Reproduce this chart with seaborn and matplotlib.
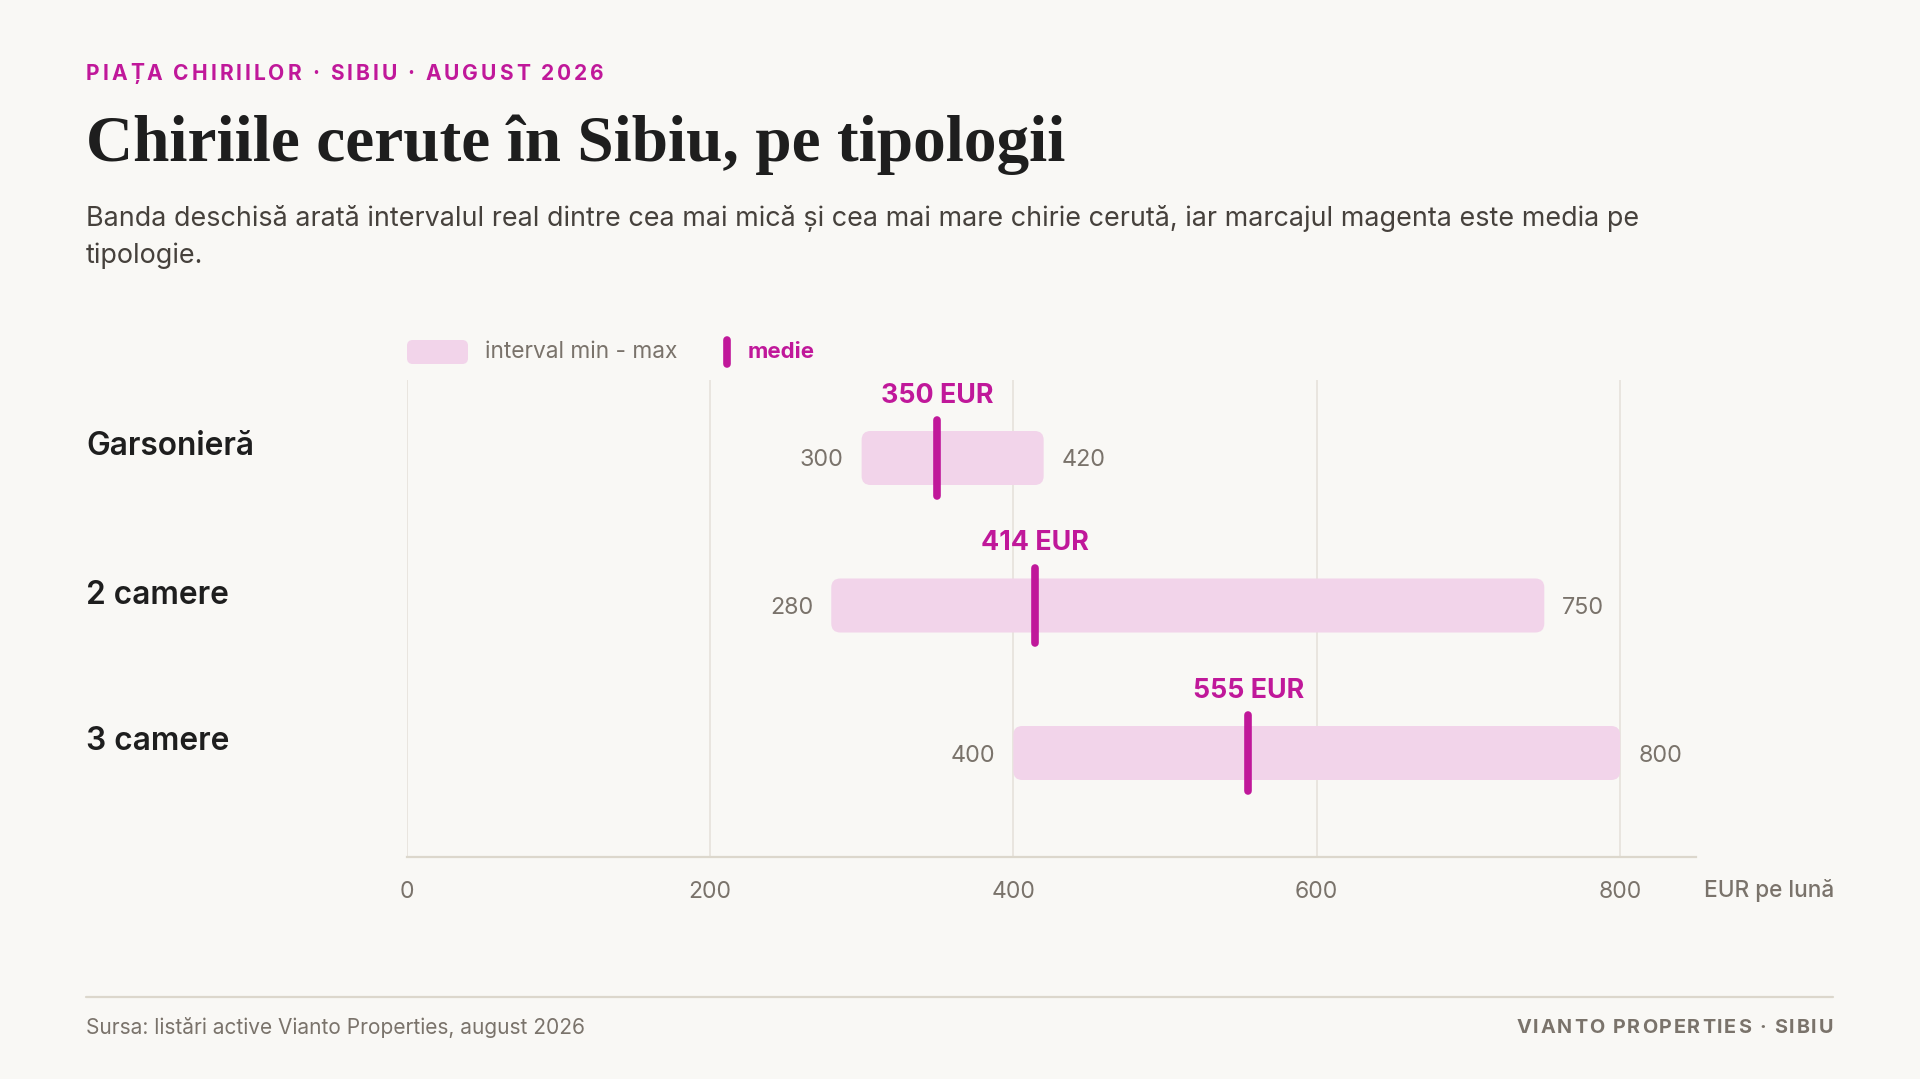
import matplotlib
matplotlib.use("Agg")
import matplotlib.pyplot as plt
from matplotlib.patches import FancyBboxPatch
from matplotlib.lines import Line2D
import seaborn as sns
import pandas as pd

# ---------------- data ----------------
categories = ["Garsonieră", "2 camere", "3 camere"]
min_values = [300, 280, 400]
max_values = [420, 750, 800]
mean_values = [350, 414, 555]
x_ticks = [0, 200, 400, 600, 800]

kicker = "PIAȚA CHIRIILOR · SIBIU · AUGUST 2026"
title = "Chiriile cerute în Sibiu, pe tipologii"
subtitle_1 = "Banda deschisă arată intervalul real dintre cea mai mică și cea mai mare chirie cerută, iar marcajul magenta este media pe"
subtitle_2 = "tipologie."
legend_range = "interval min - max"
legend_mean = "medie"
x_unit = "EUR pe lună"
source = "Sursa: listări active Vianto Properties, august 2026"
brand = "VIANTO PROPERTIES · SIBIU"

df = pd.DataFrame({"cat": categories, "lo": min_values, "hi": max_values, "mean": mean_values})

# ---------------- style ----------------
BG = "#F9F8F5"
MAGENTA = "#C0189A"
PINK = "#F2D4EA"
GRAY = "#7A736B"
DARK = "#1E1E1E"
SUB = "#46413C"
GRID = "#E6E2DB"
AXLINE = "#DCD7CC"

sns.set_theme(style="white", rc={"figure.facecolor": BG, "axes.facecolor": BG})
plt.rcParams["font.family"] = ["Inter", "DejaVu Sans"]

W, H = 1920, 1079
fig = plt.figure(figsize=(W / 100, H / 100), dpi=100)
fig.patch.set_facecolor(BG)
renderer = fig.canvas.get_renderer()


def fx(px):
    return px / W


def fy(py):
    return 1 - py / H


def fit(t, target):
    w = t.get_window_extent(renderer=renderer).width
    t.set_fontsize(t.get_fontsize() * target / w)
    return t


def spaced(x, y, s, size, spacing, ha="left", **kw):
    widths = []
    for ch in s:
        t = fig.text(0, 0, ch, fontsize=size, **kw)
        widths.append(t.get_window_extent(renderer=renderer).width if ch != " " else None)
        t.remove()
    sp = fig.text(0, 0, "a a", fontsize=size, **kw)
    a = fig.text(0, 0, "aa", fontsize=size, **kw)
    space_w = sp.get_window_extent(renderer=renderer).width - a.get_window_extent(renderer=renderer).width
    sp.remove(); a.remove()
    widths = [w if w is not None else space_w for w in widths]
    total = sum(widths) + spacing * (len(s) - 1)
    cx = x - total if ha == "right" else x
    for ch, w in zip(s, widths):
        fig.text(fx(cx), fy(y), ch, fontsize=size, ha="left", va="center", **kw)
        cx += w + spacing


# ---------------- header ----------------
spaced(86, 74, kicker, 15.1, 2.95, color=MAGENTA, fontweight="bold")
t = fig.text(fx(86), fy(145), title, fontsize=50, fontweight="bold", color=DARK,
             family=["Liberation Serif"], va="center", ha="left")
fit(t, 978)
t = fig.text(fx(86), fy(218), subtitle_1, fontsize=18, color=SUB, va="center", ha="left")
fit(t, 1545)
fig.text(fx(86), fy(256), subtitle_2, fontsize=t.get_fontsize(), color=SUB, va="center", ha="left")

# ---------------- legend ----------------
fig.patches.append(FancyBboxPatch((fx(407), fy(364)), fx(61), (364 - 340) / H,
                                  boxstyle="round,pad=0,rounding_size=0.003",
                                  mutation_aspect=W / H, transform=fig.transFigure,
                                  facecolor=PINK, edgecolor="none"))
t = fig.text(fx(485), fy(352), legend_range, fontsize=15, color=GRAY, va="center", ha="left")
fit(t, 193)
fig.lines.append(Line2D([fx(727), fx(727)], [fy(340), fy(364)], transform=fig.transFigure,
                        color=MAGENTA, lw=5.5, solid_capstyle="round"))
t = fig.text(fx(748), fy(352), legend_mean, fontsize=15, color=MAGENTA, fontweight="bold",
             va="center", ha="left")
fit(t, 67)

# ---------------- axes ----------------
L, R, T, B = 406.5, 1696, 380, 857
ax = fig.add_axes([fx(L), fy(B), (R - L) / W, (B - T) / H])
ax.set_facecolor(BG)
xmax = 850
row_px = 147.5
y_top = -(458 - T) / row_px
y_bot = 2 + (B - 753) / row_px
ax.set_xlim(0, xmax)
ax.set_ylim(y_bot, y_top)
for s in ["top", "right", "left"]:
    ax.spines[s].set_visible(False)
ax.spines["bottom"].set_color(AXLINE)
ax.spines["bottom"].set_linewidth(1.6)
ax.set_xticks(x_ticks)
ax.set_xticklabels([str(v) for v in x_ticks])
ax.tick_params(axis="x", length=0, pad=17, labelsize=16.5, labelcolor=GRAY)
ax.set_yticks([])
for v in x_ticks:
    ax.axvline(v, color=GRID, lw=1.2, zorder=0)

px_x = (R - L) / xmax  # pixels per x unit
bar_h = 54 / row_px
aspect = (1 / row_px) / (1 / px_x)
label_y = [447, 595, 742]
val_dy = 2.5 / row_px
for i, row in df.iterrows():
    ax.add_patch(FancyBboxPatch((row["lo"], i - bar_h / 2), row["hi"] - row["lo"], bar_h,
                                boxstyle=f"round,pad=0,rounding_size={9 / px_x}",
                                mutation_aspect=aspect, facecolor=PINK, edgecolor="none", zorder=2))
    half = (83 / 2 - 3.6) / row_px
    ax.plot([row["mean"], row["mean"]], [i - half, i + half], color=MAGENTA, lw=5.5,
            solid_capstyle="round", zorder=3)
    ax.text(row["mean"], i - 62 / row_px, f"{row['mean']} EUR", color=MAGENTA, fontsize=19.3,
            fontweight="bold", ha="center", va="center", zorder=4)
    ax.text(row["lo"] - 18 / px_x, i + val_dy, str(row["lo"]), color=GRAY, fontsize=16.8,
            ha="right", va="center")
    ax.text(row["hi"] + 18 / px_x, i + val_dy, str(row["hi"]), color=GRAY, fontsize=16.8,
            ha="left", va="center")
    t = fig.text(fx(86), fy(label_y[i]), row["cat"], color=DARK, fontsize=23,
                 fontweight="semibold", ha="left", va="center")
    if i == 0:
        fit(t, 168)
        cat_size = t.get_fontsize()
    else:
        t.set_fontsize(cat_size)

fig.text(fx(1704), fy(891), x_unit, color=GRAY, fontsize=16.3, fontweight="medium",
         ha="left", va="center")

# ---------------- footer ----------------
fig.lines.append(Line2D([fx(86), fx(1833)], [fy(997), fy(997)], transform=fig.transFigure,
                        color=AXLINE, lw=1.6))
t = fig.text(fx(86), fy(1028), source, color=GRAY, fontsize=14, ha="left", va="center")
fit(t, 500)
spaced(1833, 1028, brand, 14.3, 1.8, ha="right", color=GRAY, fontweight="bold")

fig.savefig("out.png", dpi=100, facecolor=BG)
